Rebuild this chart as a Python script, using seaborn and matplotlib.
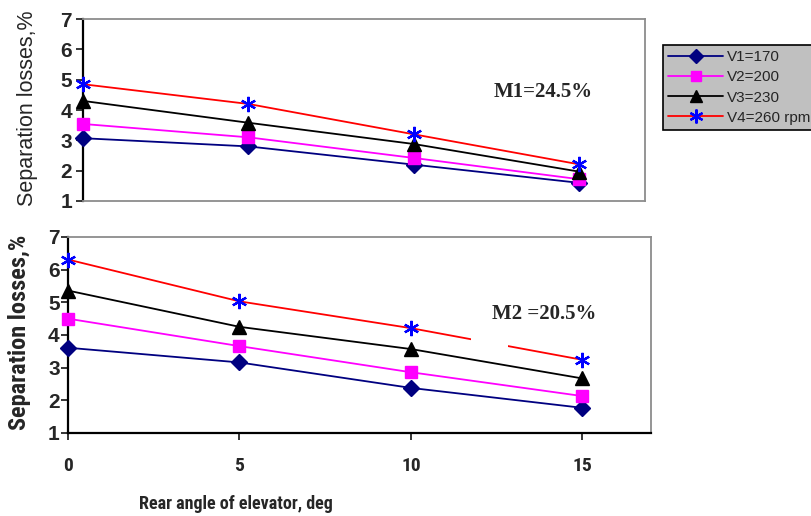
import matplotlib
matplotlib.use("Agg")
import matplotlib.pyplot as plt
from matplotlib import font_manager as fm
from matplotlib.lines import Line2D
from matplotlib.patches import Rectangle
import seaborn as sns

# data
angles = [0, 5, 10, 15]
labels = ["V1=170", "V2=200", "V3=230", "V4=260 rpm"]
m1_losses = {
    "V1=170": [3.07, 2.80, 2.20, 1.60],
    "V2=200": [3.54, 3.10, 2.42, 1.72],
    "V3=230": [4.30, 3.58, 2.88, 1.97],
    "V4=260 rpm": [4.85, 4.20, 3.20, 2.21],
}
m2_losses = {
    "V1=170": [3.61, 3.16, 2.38, 1.77],
    "V2=200": [4.50, 3.66, 2.86, 2.13],
    "V3=230": [5.36, 4.25, 3.57, 2.67],
    "V4=260 rpm": [6.31, 5.03, 4.21, 3.24],
}

line_col = {"V1=170": "#000080", "V2=200": "#ff00ff", "V3=230": "black", "V4=260 rpm": "red"}
mark_col = {"V1=170": "#000080", "V2=200": "#ff00ff", "V3=230": "black", "V4=260 rpm": "#0000ff"}
mark = {"V1=170": "D", "V2=200": "s", "V3=230": "^", "V4=260 rpm": (6, 2, 0)}
msize = {"V1=170": 8, "V2=200": 8, "V3=230": 10, "V4=260 rpm": 11}

sns.set_theme(style="white")
plt.rcParams["font.family"] = ["Liberation Sans", "DejaVu Sans"]

# a narrow face for the bottom axis texts, if one is installed
names = {f.name for f in fm.fontManager.ttflist}
dejavu_cond = any(f.name == "DejaVu Sans" and "ondensed" in f.fname for f in fm.fontManager.ttflist)
if "Roboto Condensed" in names:
    cond, xlab_size, ylab_size, tick_size = dict(family="Roboto Condensed"), 13, 17.5, 14
elif "Liberation Sans Narrow" in names:
    cond, xlab_size, ylab_size, tick_size = dict(family="Liberation Sans Narrow"), 13, 16, 13
elif dejavu_cond:
    cond, xlab_size, ylab_size, tick_size = dict(family="DejaVu Sans", fontstretch="condensed"), 12, 15, 13
else:
    cond, xlab_size, ylab_size, tick_size = dict(family="Liberation Sans"), 12, 14, 13

fig = plt.figure(figsize=(8.11, 5.16), dpi=100)
ax1 = fig.add_axes([83 / 811, 1 - 201 / 516, 562 / 811, 182 / 516])
ax2 = fig.add_axes([68 / 811, 1 - 433 / 516, 583 / 811, 196 / 516])

for ax, data in [(ax1, m1_losses), (ax2, m2_losses)]:
    for lab in labels:
        mw = 1.6 if lab == "V4=260 rpm" else 1
        sns.lineplot(x=angles, y=data[lab], ax=ax, color=line_col[lab], linewidth=1.3,
                     marker=mark[lab], markersize=msize[lab], markerfacecolor=mark_col[lab],
                     markeredgecolor=mark_col[lab], markeredgewidth=mw, label=lab,
                     clip_on=False, zorder=3)
    ax.get_legend().remove()
    ax.set_xlim(0, 17)
    ax.set_ylim(1, 7)
    ax.set_yticks([1, 2, 3, 4, 5, 6, 7])
    ax.set_facecolor("white")
    for s in ["top", "right"]:
        ax.spines[s].set_color("#8c8c8c")
        ax.spines[s].set_linewidth(1.3)
    ax.spines["left"].set_color("black")
    ax.spines["left"].set_linewidth(1.6)
    ax.set_xlabel("")
    ax.set_ylabel("")

# top panel
ax1.spines["bottom"].set_color("#8c8c8c")
ax1.spines["bottom"].set_linewidth(1.3)
ax1.set_xticks([])
ax1.tick_params(axis="y", left=True, direction="out", length=5, width=1.3, pad=3, labelsize=15)
for t in ax1.get_yticklabels():
    t.set_fontweight("bold")
fig.text(28 / 811, 1 - 108 / 516, "Separation losses,%", rotation=90, ha="center", va="center",
         fontsize=15.5)
fig.text(494 / 811, 1 - 92 / 516, "M1=24.5%", ha="left", va="center",
         fontsize=15, fontweight="bold", family="Liberation Serif")

# bottom panel
ax2.spines["bottom"].set_color("black")
ax2.spines["bottom"].set_linewidth(1.6)
ax2.set_xticks(angles)
ax2.tick_params(axis="x", bottom=True, direction="out", length=5, width=1.3, pad=12)
ax2.tick_params(axis="y", left=True, direction="out", length=5, width=1.3, pad=1, labelsize=15)
for t in ax2.get_xticklabels():
    t.set_fontweight("bold")
    t.set_fontsize(tick_size)
    t.set(**cond)
for t in ax2.get_yticklabels():
    t.set_fontweight("bold")
fig.text(20 / 811, 1 - 332 / 516, "Separation losses,%", rotation=90, ha="center", va="center",
         fontsize=ylab_size, fontweight="bold", **cond)
fig.text(492 / 811, 1 - 314 / 516, "M2 =20.5%", ha="left", va="center",
         fontsize=15, fontweight="bold", family="Liberation Serif")
# white gap over the red line, as in the reference
ax2.add_patch(Rectangle((471 / 811, 1 - 350 / 516), 37 / 811, 14 / 516, transform=fig.transFigure,
                        facecolor="white", edgecolor="none", zorder=5))
fig.text(236 / 811, 1 - 504 / 516, "Rear angle of elevator, deg", ha="center", va="center",
         fontsize=xlab_size, fontweight="bold", **cond)

handles = [Line2D([], [], color=line_col[l], linewidth=1.3, marker=mark[l],
                  markersize=msize[l] - 1, markerfacecolor=mark_col[l],
                  markeredgecolor=mark_col[l], markeredgewidth=1.6 if l == "V4=260 rpm" else 1)
           for l in labels]
leg = fig.legend(handles, labels, loc="upper left", bbox_to_anchor=(663 / 811, 1 - 45 / 516),
                 borderaxespad=0, fontsize=11, handlelength=3.6, handletextpad=0.25,
                 labelspacing=0.4, borderpad=0.35, fancybox=False, framealpha=1,
                 facecolor="#c0c0c0", edgecolor="black")
leg.get_frame().set_linewidth(1.2)

fig.savefig("out.png", dpi=100)
